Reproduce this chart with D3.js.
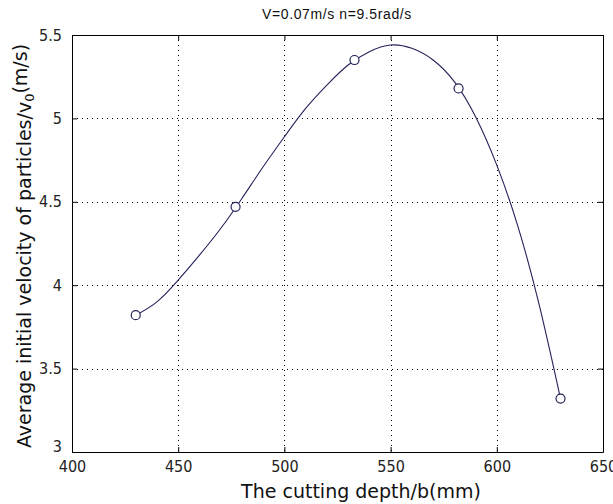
<!DOCTYPE html>
<html><head><meta charset="utf-8">
<script src="https://cdn.jsdelivr.net/npm/d3@7"></script>
<style>body{margin:0;background:#fff}svg{display:block}</style>
</head><body>
<svg id="chart" width="613" height="504"></svg>
<script>
// Measured data points (markers)
const depth = [430, 477, 533, 582, 630];
const velocity = [3.82, 4.47, 5.35, 5.18, 3.32];
// Smooth fitted curve
const curveDepth = [430,440,450,460,470,480,490,500,510,520,530,540,550,560,570,580,590,600,610,620,630];
const curveVelocity = [3.82,3.90,4.03,4.18,4.34,4.52,4.71,4.89,5.06,5.20,5.32,5.40,5.44,5.42,5.35,5.22,5.01,4.72,4.35,3.88,3.32];
const xTicks = [400, 450, 500, 550, 600, 650];
const yTicks = [3, 3.5, 4, 4.5, 5, 5.5];
const titleText = "V=0.07m/s n=9.5rad/s";
const xLabel = "The cutting depth/b(mm)";
const yLabelMain = "Average initial velocity of particles/v";
const yLabelSub = "0";
const yLabelEnd = "(m/s)";

const svg = d3.select("#chart");
const L = 72, R = 603, T = 35, B = 452;
const x = d3.scaleLinear().domain([400, 650]).range([L, R]);
const y = d3.scaleLinear().domain([3, 5.5]).range([B, T]);
const lineColor = "#23235a";
const tickFont = "'Liberation Sans Narrow','DejaVu Sans Condensed',sans-serif";

// gridlines
const grid = svg.append("g").attr("stroke", "#000").attr("stroke-width", 1).attr("stroke-dasharray", "1,4");
grid.selectAll("line.v").data(xTicks.slice(1, -1)).join("line")
  .attr("x1", d => Math.round(x(d)) + 0.5).attr("x2", d => Math.round(x(d)) + 0.5)
  .attr("y1", T).attr("y2", B);
grid.selectAll("line.h").data(yTicks.slice(1, -1)).join("line")
  .attr("y1", d => Math.round(y(d)) + 0.5).attr("y2", d => Math.round(y(d)) + 0.5)
  .attr("x1", L).attr("x2", R);

// axes (inward ticks on all sides)
const axB = d3.axisBottom(x).tickValues(xTicks).tickSizeInner(-5).tickSizeOuter(0).tickPadding(9).tickFormat(d3.format("d"));
const axT = d3.axisTop(x).tickValues(xTicks).tickSizeInner(-5).tickSizeOuter(0).tickFormat("");
const axL = d3.axisLeft(y).tickValues(yTicks).tickSizeInner(-5).tickSizeOuter(0).tickPadding(10).tickFormat(d => String(d));
const axR = d3.axisRight(y).tickValues(yTicks).tickSizeInner(-5).tickSizeOuter(0).tickFormat("");

function style(g) {
  g.selectAll("path").attr("stroke", "#000");
  g.selectAll("line").attr("stroke", "#000");
  g.selectAll("text").attr("fill", "#222").style("font-family", tickFont).style("font-size", "16px");
}
svg.append("g").attr("transform", `translate(0,${B})`).call(axB).call(style);
svg.append("g").attr("transform", `translate(0,${T})`).call(axT).call(style);
const gl = svg.append("g").attr("transform", `translate(${L},0)`).call(axL).call(style);
svg.append("g").attr("transform", `translate(${R},0)`).call(axR).call(style);
// lowest y label sits a little higher (as in original)
gl.selectAll(".tick text").filter(d => d === 3).attr("dy", "-0.05em");

// curve
const line = d3.line().x((d, i) => x(curveDepth[i])).y((d, i) => y(curveVelocity[i])).curve(d3.curveNatural);
svg.append("path").datum(curveVelocity).attr("d", line)
  .attr("fill", "none").attr("stroke", lineColor).attr("stroke-width", 1.1);

// markers
svg.selectAll("circle.pt").data(velocity).join("circle")
  .attr("cx", (d, i) => x(depth[i])).attr("cy", d => y(d)).attr("r", 4.5)
  .attr("fill", "#fff").attr("stroke", lineColor).attr("stroke-width", 1.2);

// title
svg.append("text").attr("x", 337).attr("y", 19).attr("text-anchor", "middle")
  .style("font-family", "'Liberation Sans',Arial,sans-serif").style("font-size", "14px")
  .style("letter-spacing", "0.6px").attr("fill", "#111").text(titleText);

// x label
svg.append("text").attr("x", 361).attr("y", 498).attr("text-anchor", "middle")
  .style("font-family", "'DejaVu Sans',sans-serif").style("font-size", "19px")
  .attr("fill", "#111").text(xLabel);

// y label
const yl = svg.append("text").attr("transform", "translate(31,246) rotate(-90)").attr("text-anchor", "middle")
  .style("font-family", "'DejaVu Sans',sans-serif").style("font-size", "19px").attr("fill", "#111");
yl.append("tspan").text(yLabelMain);
yl.append("tspan").attr("dy", "0.25em").style("font-size", "13px").text(yLabelSub);
yl.append("tspan").attr("dy", "-0.38em").text(yLabelEnd);
</script>
</body></html>
